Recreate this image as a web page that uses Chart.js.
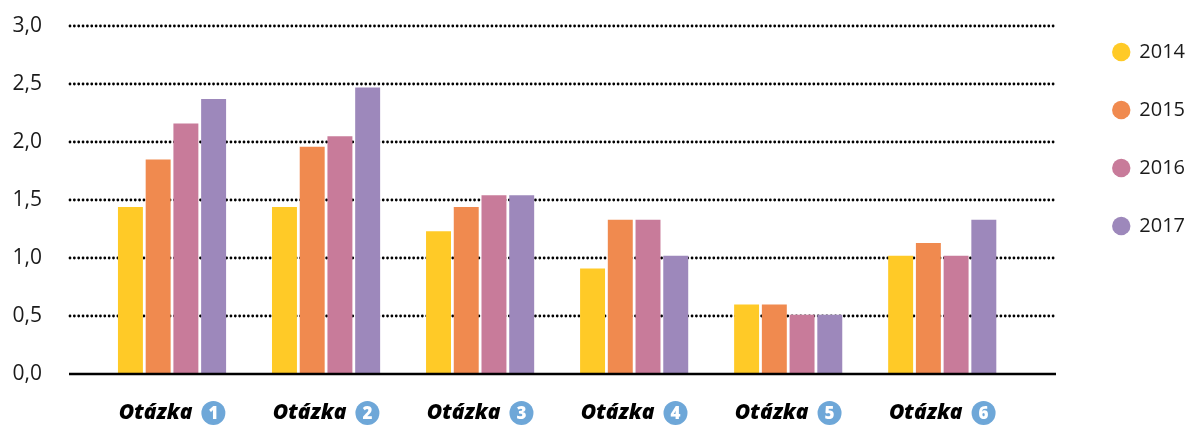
<!DOCTYPE html>
<html>
<head>
<meta charset="utf-8">
<script src="https://cdn.jsdelivr.net/npm/chart.js@4/dist/chart.umd.min.js"></script>
<style>
  html, body { margin: 0; padding: 0; background: #fff; }
  #wrap { width: 1187px; height: 429px; position: relative; }
</style>
</head>
<body>
<div id="wrap"><canvas id="barChart"></canvas></div>
<script>
const categories = ["Otázka 1", "Otázka 2", "Otázka 3", "Otázka 4", "Otázka 5", "Otázka 6"];
const years = ["2014", "2015", "2016", "2017"];
const values2014 = [1.44, 1.44, 1.23, 0.91, 0.6, 1.02];
const values2015 = [1.85, 1.96, 1.44, 1.33, 0.6, 1.13];
const values2016 = [2.16, 2.05, 1.54, 1.33, 0.51, 1.02];
const values2017 = [2.37, 2.47, 1.54, 1.02, 0.51, 1.33];
const yTickLabels = ["0,0", "0,5", "1,0", "1,5", "2,0", "2,5", "3,0"];

const colors = ["#FFCA27", "#F08A4F", "#C87B9A", "#9D88BB"];
const badgeColor = "#6EA7D8";
const textColor = "#1a1a1a";
const fontFamily = "'Open Sans', 'Noto Sans', sans-serif";

// dotted grid + solid zero line, wider than the bar area
const gridPlugin = {
  id: "dottedGrid",
  beforeDatasetsDraw(chart) {
    const { ctx } = chart;
    const y = chart.scales.y;
    ctx.save();
    ctx.strokeStyle = "#000";
    ctx.lineWidth = 2.8;
    ctx.lineCap = "round";
    ctx.setLineDash([0, 4.35]);
    y.ticks.forEach((t) => {
      if (t.value === 0) return;
      const py = Math.round(y.getPixelForValue(t.value));
      ctx.beginPath();
      ctx.moveTo(70, py);
      ctx.lineTo(1055, py);
      ctx.stroke();
    });
    ctx.restore();
  },
  afterDatasetsDraw(chart) {
    const { ctx } = chart;
    const py = chart.scales.y.getPixelForValue(0);
    ctx.save();
    ctx.strokeStyle = "#000";
    ctx.lineWidth = 2.6;
    ctx.beginPath();
    ctx.moveTo(69, py);
    ctx.lineTo(1056, py);
    ctx.stroke();
    ctx.restore();
  },
  afterDraw(chart) {
    // category labels: "Otázka" + numbered badge
    const { ctx } = chart;
    const x = chart.scales.x;
    const cy = 413;
    ctx.save();
    categories.forEach((label, i) => {
      const parts = label.split(" ");
      const word = parts[0];
      const num = parts[1];
      ctx.font = "italic 800 21px " + fontFamily;
      const w = ctx.measureText(word).width;
      const r = 12;
      const gap = 9;
      const total = w + gap + r * 2;
      const cx = x.getPixelForValue(i);
      const left = cx - total / 2;
      ctx.fillStyle = "#000";
      ctx.textAlign = "left";
      ctx.textBaseline = "middle";
      ctx.fillText(word, left, cy);
      const bx = left + w + gap + r;
      ctx.fillStyle = badgeColor;
      ctx.beginPath();
      ctx.arc(bx, cy, r, 0, Math.PI * 2);
      ctx.fill();
      ctx.fillStyle = "#fff";
      ctx.font = "800 17px " + fontFamily;
      ctx.textAlign = "center";
      ctx.fillText(num, bx, cy + 1);
    });
    ctx.restore();
  },
};

function buildDatasets() {
  const series = [values2014, values2015, values2016, values2017];
  return years.map((yr, i) => ({
    label: yr,
    data: series[i],
    backgroundColor: colors[i],
    borderWidth: 0,
    categoryPercentage: 0.72,
    barPercentage: 0.9,
  }));
}

const ctx = document.getElementById("barChart").getContext("2d");
const chart = new Chart(ctx, {
  type: "bar",
  data: { labels: categories, datasets: buildDatasets() },
  plugins: [gridPlugin],
  options: {
    responsive: true,
    maintainAspectRatio: false,
    animation: false,
    layout: { padding: { top: 0, right: -8, bottom: 0, left: 0 } },
    plugins: {
      title: {
        display: true,
        text: "",
        font: { size: 10, lineHeight: 1 },
        padding: { top: 16, bottom: 0 },
      },
      tooltip: { enabled: false },
      legend: {
        position: "right",
        align: "start",
        title: { display: true, text: "", font: { size: 4, lineHeight: 1 }, padding: 0 },
        labels: {
          usePointStyle: true,
          pointStyle: "circle",
          boxWidth: 16,
          boxHeight: 13,
          padding: 38,
          color: textColor,
          font: { family: fontFamily, size: 20 },
        },
      },
    },
    scales: {
      x: {
        grid: { display: false },
        border: { display: false },
        ticks: { display: false },
        afterFit(scale) {
          scale.height = 55;
        },
      },
      y: {
        min: 0,
        max: 3,
        grid: { display: false, drawTicks: false },
        border: { display: false },
        ticks: {
          stepSize: 0.5,
          padding: 53,
          color: textColor,
          font: { family: fontFamily, size: 21 },
          callback: function (value) {
            return yTickLabels[Math.round(value * 2)];
          },
        },
        afterFit(scale) {
          scale.width = 95;
          scale.paddingTop = 0;
          scale.paddingBottom = 0;
        },
      },
      yRight: {
        position: "right",
        display: true,
        grid: { display: false, drawTicks: false },
        border: { display: false },
        ticks: { display: false },
        afterFit(scale) {
          scale.width = 56;
          scale.paddingTop = 0;
          scale.paddingBottom = 0;
        },
      },
    },
  },
});
</script>
</body>
</html>
